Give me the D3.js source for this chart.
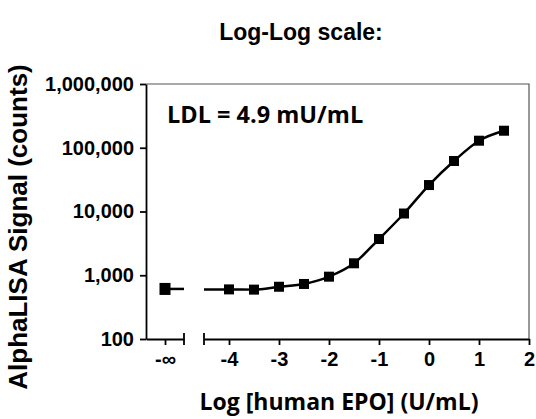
<!DOCTYPE html>
<html>
<head>
<meta charset="utf-8">
<script src="https://cdn.jsdelivr.net/npm/d3@7"></script>
<style>
  body { margin: 0; background: #fff; }
  svg text { fill: #000; }
</style>
</head>
<body>
<svg id="chart" width="536" height="419"></svg>
<script>
// values
var doseLog = [-4, -3.5, -3, -2.5, -2, -1.5, -1, -0.5, 0, 0.5, 1, 1.5];
var signal = [600, 595, 660, 730, 950, 1540, 3700, 9300, 26000, 62000, 129000, 185000];
var blankSignal = 610;      // the "-inf" (no EPO) well
var fitStart = [-4.5, 600]; // where the fit line starts, at the axis break
var xTicks = [-4, -3, -2, -1, 0, 1, 2];
var yTicks = [100, 1000, 10000, 100000, 1000000];

// plot box edges (don't call these top/left, window.top is taken)
var plotL = 146, plotT = 84, plotR = 529, plotB = 339;

var svg = d3.select("#chart");
var sans = "'Liberation Sans', Arial, sans-serif";
var calib = "'Open Sans', Lato, sans-serif";

var x = d3.scaleLinear().domain([-4.5, 2]).range([204, plotR]);
var xInf = d3.scaleLinear().domain([0, 1]).range([plotL, 184]);
var y = d3.scaleLog().domain([100, 1000000]).range([plotB, plotT]);

// box (top and right edges)
svg.append("path")
    .attr("d", "M" + plotL + "," + plotT + "H" + plotR + "V" + plotB)
    .attr("fill", "none")
    .attr("stroke", "#555")
    .attr("stroke-width", 1.2);

// y axis
var yAxis = svg.append("g")
    .attr("transform", "translate(" + plotL + ",0)")
    .call(d3.axisLeft(y).tickValues(yTicks).tickFormat(d3.format(",")).tickSize(6).tickSizeOuter(0).tickPadding(6));

// x axis, main segment (plain hyphen minus like the original)
var xAxis = svg.append("g")
    .attr("transform", "translate(0," + plotB + ")")
    .call(d3.axisBottom(x).tickValues(xTicks).tickFormat(function(d) { return String(d); }).tickSize(6).tickSizeOuter(0).tickPadding(7));

// x axis, -inf segment
var xInfAxis = svg.append("g")
    .attr("transform", "translate(0," + plotB + ")")
    .call(d3.axisBottom(xInf).tickValues([0.5]).tickFormat(function() { return "-\u221E"; }).tickSize(6).tickSizeOuter(0).tickPadding(7));

[yAxis, xAxis, xInfAxis].forEach(function(g) {
    g.selectAll("path, line").attr("stroke", "#000").attr("stroke-width", 1.8);
    g.selectAll("text")
        .attr("font-family", sans)
        .attr("font-weight", "bold")
        .attr("font-size", 20);
});

// break marks at both sides of the gap
[xInf.range()[1], x.range()[0]].forEach(function(bx) {
    svg.append("line")
        .attr("x1", bx).attr("x2", bx)
        .attr("y1", plotB - 6).attr("y2", plotB + 6)
        .attr("stroke", "#000").attr("stroke-width", 1.8);
});

// fit line
var line = d3.line()
    .x(function(d) { return x(d[0]); })
    .y(function(d) { return y(d[1]); })
    .curve(d3.curveMonotoneX);

var pts = [fitStart].concat(doseLog.map(function(d, i) { return [d, signal[i]]; }));
svg.append("path")
    .datum(pts)
    .attr("d", line)
    .attr("fill", "none")
    .attr("stroke", "#000")
    .attr("stroke-width", 2.5);

// blank line up to the break
svg.append("line")
    .attr("x1", xInf(0.5)).attr("x2", xInf.range()[1])
    .attr("y1", y(blankSignal)).attr("y2", y(blankSignal))
    .attr("stroke", "#000").attr("stroke-width", 2.5);

// markers
var sq = 10;
svg.selectAll("rect.pt")
    .data(doseLog)
    .enter()
    .append("rect")
    .attr("class", "pt")
    .attr("x", function(d) { return x(d) - sq / 2; })
    .attr("y", function(d, i) { return y(signal[i]) - sq / 2; })
    .attr("width", sq).attr("height", sq)
    .attr("fill", "#000");

svg.append("rect")
    .attr("x", xInf(0.5) - sq / 2 - 0.5)
    .attr("y", y(blankSignal) - sq / 2 - 1)
    .attr("width", sq + 1).attr("height", sq + 2)
    .attr("fill", "#000");

// titles
svg.append("text")
    .attr("x", 301).attr("y", 40)
    .attr("text-anchor", "middle")
    .attr("font-family", sans).attr("font-weight", "bold").attr("font-size", 23)
    .text("Log-Log scale:");

svg.append("text")
    .attr("transform", "translate(27,227) rotate(-90)")
    .attr("text-anchor", "middle")
    .attr("font-family", sans).attr("font-weight", "bold").attr("font-size", 26)
    .text("AlphaLISA Signal (counts)");

svg.append("text")
    .attr("x", 339).attr("y", 410)
    .attr("text-anchor", "middle")
    .attr("font-family", calib).attr("font-weight", "bold").attr("font-size", 23)
    .text("Log [human EPO] (U/mL)");

svg.append("text")
    .attr("x", 167).attr("y", 123)
    .attr("font-family", calib).attr("font-weight", "bold").attr("font-size", 23.5)
    .text("LDL = 4.9 mU/mL");
</script>
</body>
</html>
